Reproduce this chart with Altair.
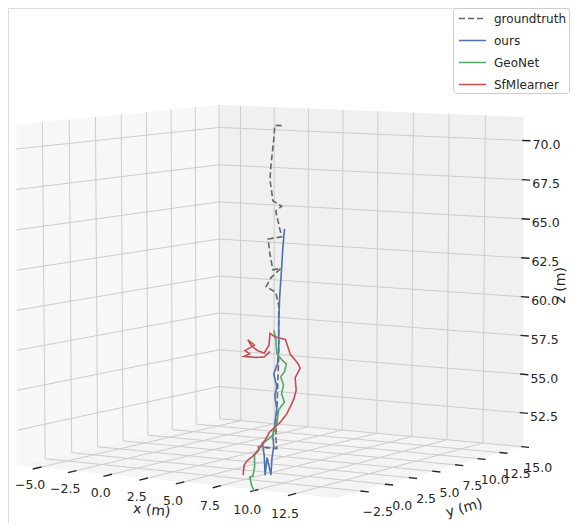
import numpy as np
import pandas as pd
import altair as alt

# ---------------- data ----------------
X_LIM = [-6.6, 15.2]
Y_LIM = [-5.0, 15.0]
Z_LIM = [50.3, 71.5]
X_TICKS = [-5.0, -2.5, 0.0, 2.5, 5.0, 7.5, 10.0, 12.5]
Y_TICKS = [-2.5, 0.0, 2.5, 5.0, 7.5, 10.0, 12.5, 15.0]
Z_TICKS = [52.5, 55.0, 57.5, 60.0, 62.5, 65.0, 67.5, 70.0]

SERIES = ["groundtruth", "ours", "GeoNet", "SfMlearner"]
COLORS = ["#666666", "#4c72b0", "#55a868", "#c44e52"]
DASHES = [[6, 3], [1, 0], [1, 0], [1, 0]]

gt_x = [10.42, 9.97, 9.90, 9.71, 9.65, 9.78, 9.84, 10.42, 10.03, 10.23, 10.42, 9.52, 9.65,
        9.84, 10.36, 9.71, 9.39, 10.03, 10.23, 10.23, 10.23, 10.16, 10.10, 10.03, 10.10, 8.81]
gt_y = [-3.25, -3.25, -3.25, -3.25, -3.25, -3.25, -3.25, -3.25, -3.25, -3.25, -3.25, -3.25, -3.25,
        -3.25, -3.25, -3.25, -3.25, -3.25, -3.25, -3.25, -3.25, -3.25, -3.25, -3.25, -3.25, -3.25]
gt_z = [71.98, 71.98, 71.14, 69.55, 68.70, 67.90, 67.48, 67.17, 66.87, 66.08, 65.35, 65.16, 64.24,
        63.33, 63.45, 62.84, 62.29, 61.99, 61.19, 59.97, 58.15, 56.31, 54.49, 53.26, 52.53, 52.53]

ours_x = [9.13, 9.26, 9.32, 9.45, 9.58, 9.71, 9.78, 9.90, 9.84, 9.97, 10.10, 9.97, 10.10, 9.90,
          10.16, 10.23, 10.23, 10.29, 10.42, 10.49, 10.61]
ours_y = [-3.25, -3.25, -3.25, -3.25, -3.25, -3.25, -3.25, -3.25, -3.25, -3.25, -3.25, -3.25,
          -3.25, -3.25, -3.25, -3.25, -3.25, -3.25, -3.25, -3.25, -3.25]
ours_z = [52.84, 52.04, 50.83, 51.92, 51.43, 50.88, 51.92, 52.65, 53.26, 53.99, 54.97, 55.71,
          56.31, 57.05, 57.72, 58.76, 60.10, 61.69, 63.45, 64.55, 65.83]

geo_x = [9.90, 10.03, 10.10, 10.42, 10.74, 10.61, 10.36, 10.55, 10.42, 10.61, 10.23, 10.10,
         9.78, 9.26, 8.94, 8.61, 8.61, 8.49, 8.29, 8.42, 8.61]
geo_y = [-3.25, -3.25, -3.25, -3.25, -3.25, -3.25, -3.25, -3.25, -3.25, -3.25, -3.25, -3.25,
         -3.25, -3.25, -3.25, -3.25, -3.25, -3.25, -3.25, -3.25, -3.25]
geo_z = [59.68, 59.24, 58.32, 57.96, 57.72, 57.23, 56.92, 56.44, 55.89, 55.40, 54.91, 54.06,
         53.26, 52.84, 52.47, 52.04, 51.25, 50.70, 50.64, 50.10, 49.79]

sfm_x = [7.84, 7.90, 8.10, 8.42, 8.81, 9.07, 9.39, 9.58, 9.90, 10.36, 10.74, 11.07, 11.26, 11.39,
         11.32, 11.65, 11.52, 11.00, 10.68, 10.36, 9.97, 9.65, 9.58, 9.26, 8.81, 8.42, 8.16,
         8.61, 7.97, 8.29, 7.90, 8.68, 9.26, 9.65]
sfm_y = [-3.25, -3.25, -3.25, -3.25, -3.25, -3.25, -3.25, -3.25, -3.25, -3.25, -3.25, -3.25,
         -3.25, -3.25, -3.25, -3.25, -3.25, -3.25, -3.25, -3.25, -3.25, -3.25, -3.25, -3.25,
         -3.25, -3.25, -3.25, -3.25, -3.25, -3.25, -3.25, -3.25, -3.25, -3.25]
sfm_z = [50.70, 51.31, 51.61, 51.86, 52.23, 52.65, 53.08, 53.45, 53.76, 54.18, 54.66, 55.28,
         55.71, 56.19, 56.92, 57.53, 57.78, 58.32, 59.18, 59.24, 59.30, 59.49, 58.76, 58.26,
         58.39, 58.63, 58.99, 58.70, 58.32, 58.15, 57.96, 57.96, 58.03, 58.39]

# ---------------- view / layout ----------------
ELEV, AZIM, DIST = 7.0, -58.0, 10.0
W, H = 562, 515
BOX_LEFT, BOX_RIGHT, BOX_TOP, BOX_BOTTOM = 7, 517, 97, 490
FONT = "DejaVu Sans"
TXT = "#262626"

xr = X_LIM[1] - X_LIM[0]
yr = Y_LIM[1] - Y_LIM[0]
zr = Z_LIM[1] - Z_LIM[0]


def project(x, y, z):
    x = np.atleast_1d(np.asarray(x, float))
    y = np.atleast_1d(np.asarray(y, float))
    z = np.atleast_1d(np.asarray(z, float))
    X = (x - X_LIM[0]) / xr - 0.5
    Y = (y - Y_LIM[0]) / yr - 0.5
    Z = (z - Z_LIM[0]) / zr - 0.5
    e, a = np.radians(ELEV), np.radians(AZIM)
    n = np.array([np.cos(e) * np.cos(a), np.cos(e) * np.sin(a), np.sin(e)])
    u = np.cross([0.0, 0.0, 1.0], n)
    u = u / np.linalg.norm(u)
    v = np.cross(n, u)
    d = np.stack([X, Y, Z], axis=-1)
    depth = DIST - d @ n
    return (d @ u) / depth, (d @ v) / depth


corners = [(cx, cy, cz) for cx in X_LIM for cy in Y_LIM for cz in Z_LIM]
ctx, cty = project(*zip(*corners))
kx = (BOX_RIGHT - BOX_LEFT) / (ctx.max() - ctx.min())
ky = (BOX_BOTTOM - BOX_TOP) / (cty.max() - cty.min())
XD = [ctx.min() - BOX_LEFT / kx, ctx.min() + (W - BOX_LEFT) / kx]
YD = [cty.max() + BOX_TOP / ky - H / ky, cty.max() + BOX_TOP / ky]
xs = alt.Scale(domain=XD, nice=False, zero=False)
ys = alt.Scale(domain=YD, nice=False, zero=False)


def XE(f):
    return alt.X(f, type="quantitative", scale=xs, axis=None)


def YE(f):
    return alt.Y(f, type="quantitative", scale=ys, axis=None, stack=None)


# ---------------- panes ----------------
def vertical_pane(pa, pb):
    rows = []
    for (px_, py_) in (pa, pb):
        tb = project(px_, py_, Z_LIM[0])
        tt = project(px_, py_, Z_LIM[1])
        rows.append(dict(px=(tb[0][0] + tt[0][0]) / 2, top=tt[1][0], bot=tb[1][0]))
    return pd.DataFrame(rows)


left_pane = vertical_pane((X_LIM[0], Y_LIM[0]), (X_LIM[0], Y_LIM[1]))
right_pane = vertical_pane((X_LIM[0], Y_LIM[1]), (X_LIM[1], Y_LIM[1]))

L = [v[0] for v in project(X_LIM[0], Y_LIM[0], Z_LIM[0])]
B = [v[0] for v in project(X_LIM[0], Y_LIM[1], Z_LIM[0])]
F = [v[0] for v in project(X_LIM[1], Y_LIM[0], Z_LIM[0])]
R = [v[0] for v in project(X_LIM[1], Y_LIM[1], Z_LIM[0])]
floor = pd.DataFrame([
    dict(px=L[0], top=L[1], bot=L[1]),
    dict(px=B[0], top=B[1], bot=float(np.interp(B[0], [L[0], F[0]], [L[1], F[1]]))),
    dict(px=F[0], top=float(np.interp(F[0], [B[0], R[0]], [B[1], R[1]])), bot=F[1]),
    dict(px=R[0], top=R[1], bot=R[1]),
])


def pane_chart(df, color):
    return alt.Chart(df).mark_area(color=color, opacity=1).encode(
        x=XE("px"), y=YE("top"), y2="bot:Q")


# ---------------- grid lines ----------------
segs = []
for t in Y_TICKS:
    segs.append(((X_LIM[0], t, Z_LIM[0]), (X_LIM[0], t, Z_LIM[1])))
    segs.append(((X_LIM[0], t, Z_LIM[0]), (X_LIM[1], t, Z_LIM[0])))
for t in X_TICKS:
    segs.append(((t, Y_LIM[1], Z_LIM[0]), (t, Y_LIM[1], Z_LIM[1])))
    segs.append(((t, Y_LIM[0], Z_LIM[0]), (t, Y_LIM[1], Z_LIM[0])))
for t in Z_TICKS:
    segs.append(((X_LIM[0], Y_LIM[0], t), (X_LIM[0], Y_LIM[1], t)))
    segs.append(((X_LIM[0], Y_LIM[1], t), (X_LIM[1], Y_LIM[1], t)))


def seg_df(seglist):
    a = np.array([s[0] for s in seglist])
    b = np.array([s[1] for s in seglist])
    ax_, ay_ = project(a[:, 0], a[:, 1], a[:, 2])
    bx_, by_ = project(b[:, 0], b[:, 1], b[:, 2])
    return pd.DataFrame(dict(x1=ax_, y1=ay_, x2=bx_, y2=by_))


grid_df = seg_df(segs)

# ---------------- ticks ----------------
tsegs = []
for t in X_TICKS:
    tsegs.append(((t, Y_LIM[0] - 0.035 * yr, Z_LIM[0]), (t, Y_LIM[0] + 0.005 * yr, Z_LIM[0])))
for t in Y_TICKS:
    tsegs.append(((X_LIM[1] - 0.003 * xr, t, Z_LIM[0]), (X_LIM[1] + 0.022 * xr, t, Z_LIM[0])))
for t in Z_TICKS:
    tsegs.append(((X_LIM[1] - 0.008 * xr, Y_LIM[1], t), (X_LIM[1] + 0.018 * xr, Y_LIM[1], t)))
tick_df = seg_df(tsegs)


def fmt(v):
    return f"{v:.1f}".replace("-", "\u2212")


n8 = len(X_TICKS)
x_drop = np.linspace(0.0, 0.008, n8)
lx, ly = project(X_TICKS, [Y_LIM[0] - 0.015 * yr] * n8, Z_LIM[0] - x_drop * zr)
xlab = pd.DataFrame(dict(px=lx, py=ly, label=[fmt(v) for v in X_TICKS]))
lx, ly = project([X_LIM[1] + 0.01 * xr] * n8, Y_TICKS, [Z_LIM[0]] * n8)
ylab = pd.DataFrame(dict(px=lx, py=ly, label=[fmt(v) for v in Y_TICKS]))
lx, ly = project([X_LIM[1] + 0.018 * xr] * n8, [Y_LIM[1]] * n8, Z_TICKS)
zlab = pd.DataFrame(dict(px=lx, py=ly, label=[fmt(v) for v in Z_TICKS]))

tx_, ty_ = project(sum(X_LIM) / 2, Y_LIM[0] - 0.1 * yr, Z_LIM[0] - 0.07 * zr)
xt_df = pd.DataFrame(dict(px=tx_, py=ty_, label=["x (m)"]))
tx_, ty_ = project(X_LIM[1] + 0.095 * xr, sum(Y_LIM) / 2, Z_LIM[0] - 0.1 * zr)
yt_df = pd.DataFrame(dict(px=tx_, py=ty_, label=["y (m)"]))
tx_, ty_ = project(X_LIM[1] + 0.115 * xr, Y_LIM[1], sum(Z_LIM) / 2)
zt_df = pd.DataFrame(dict(px=tx_, py=ty_, label=["z (m)"]))


def text_chart(df, align="center", angle=0, size=12.5, dx=0, dy=0):
    return alt.Chart(df).mark_text(font=FONT, fontSize=size, color=TXT, align=align,
                                   baseline="middle", angle=angle, dx=dx, dy=dy).encode(
        x=XE("px"), y=YE("py"), text="label:N")


# ---------------- trajectories ----------------
rows = []
for name, sx, sy, sz in [("groundtruth", gt_x, gt_y, gt_z), ("ours", ours_x, ours_y, ours_z),
                         ("GeoNet", geo_x, geo_y, geo_z), ("SfMlearner", sfm_x, sfm_y, sfm_z)]:
    px_, py_ = project(sx, sy, sz)
    for i, (a, b) in enumerate(zip(px_, py_)):
        rows.append(dict(series=name, idx=i, px=a, py=b))
traj = pd.DataFrame(rows)

leg = dict(title=None, orient="none", legendX=445, legendY=0,
           symbolType="M-0.6,0L3,0", symbolSize=225, symbolStrokeWidth=1.6,
           labelFont=FONT, labelFontSize=12, labelColor=TXT, labelOffset=22,
           fillColor="white", strokeColor="#cccccc", padding=2, cornerRadius=3,
           rowPadding=7)

lines = alt.Chart(traj).mark_line(strokeWidth=1.6).encode(
    x=XE("px"), y=YE("py"),
    color=alt.Color("series:N", scale=alt.Scale(domain=SERIES, range=COLORS),
                    legend=alt.Legend(**leg)),
    strokeDash=alt.StrokeDash("series:N", scale=alt.Scale(domain=SERIES, range=DASHES),
                              legend=alt.Legend(**leg)),
    order="idx:Q",
)

grid = alt.Chart(grid_df).mark_rule(color="#cccccc", strokeWidth=1).encode(
    x=XE("x1"), y=YE("y1"), x2="x2:Q", y2="y2:Q")
ticks = alt.Chart(tick_df).mark_rule(color="#262626", strokeWidth=1.4).encode(
    x=XE("x1"), y=YE("y1"), x2="x2:Q", y2="y2:Q")

chart = alt.layer(
    pane_chart(left_pane, "#f7f7f7"),
    pane_chart(right_pane, "#f0f0f0"),
    pane_chart(floor, "#f4f4f4"),
    grid,
    ticks,
    text_chart(xlab, dx=-7, dy=17),
    text_chart(ylab, dx=13, dy=21),
    text_chart(zlab, align="left", dx=2, dy=4),
    text_chart(xt_df, angle=6, size=14),
    text_chart(yt_df, angle=345, size=14),
    text_chart(zt_df, angle=270, size=14),
    lines,
).properties(
    width=W, height=H, autosize=alt.AutoSizeParams(type="none"), padding=0
).configure_view(strokeWidth=0).configure(font=FONT)

chart.save("out.html", embed_options={"renderer": "svg", "actions": False})
